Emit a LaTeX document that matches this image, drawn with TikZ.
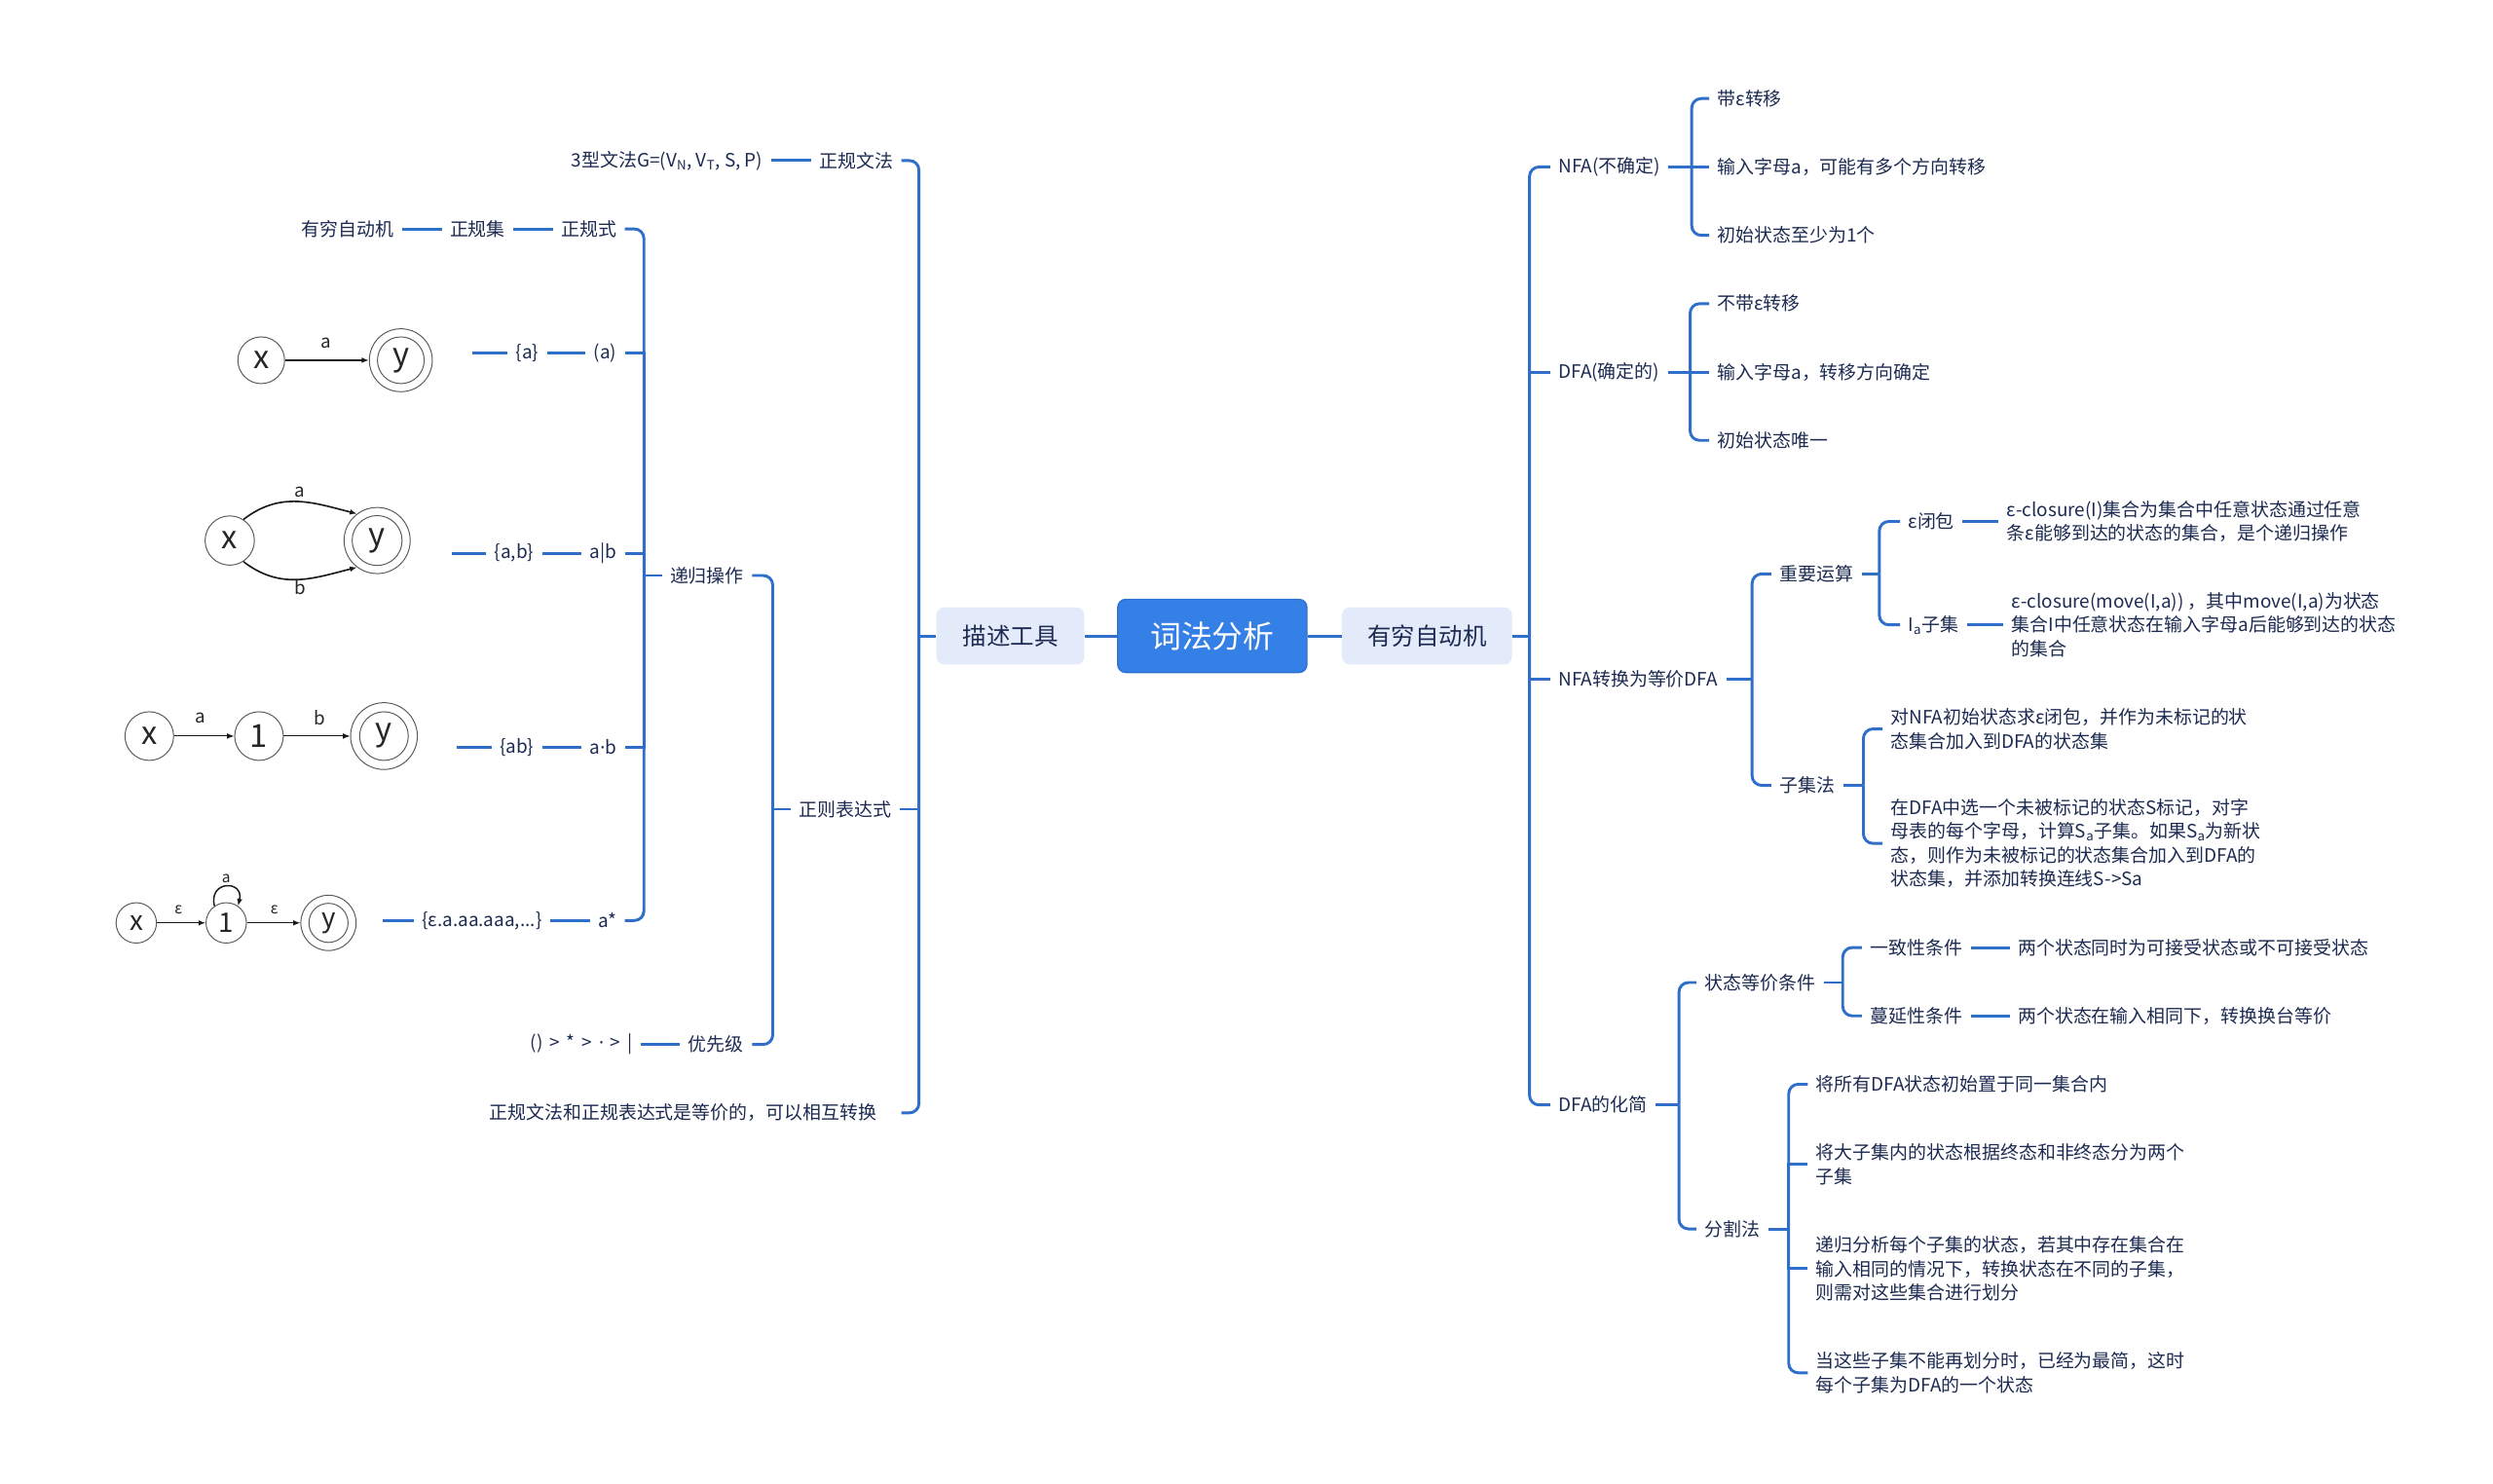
\documentclass[tikz,border=0pt]{standalone}
\usepackage{fontspec}
\setmainfont{Noto Sans CJK SC}
\newfontfamily\latinf{Noto Sans}
\usetikzlibrary{arrows.meta,calc}
\definecolor{linecol}{HTML}{2F6FC9}
\definecolor{txtcol}{HTML}{1D2B52}
\definecolor{rootfill}{HTML}{3580E6}
\definecolor{rootdraw}{HTML}{2C70D2}
\definecolor{boxfill}{HTML}{E3EBFB}
\definecolor{stcol}{HTML}{5A5A5A}
\begin{document}
\begin{tikzpicture}[x=1pt,y=-1pt,
  conn/.style={draw=linecol,line width=1.8pt},
  rc/.style={conn,rounded corners=6pt},
  tn/.style={font=\fontsize{11.6}{15}\selectfont,text=txtcol,inner xsep=5pt,inner ysep=2pt,align=left},
  rn/.style={tn,anchor=west},
  ln/.style={tn,anchor=east},
  rootbox/.style={fill=rootfill,draw=rootdraw,line width=0.8pt,rounded corners=5pt,text=white,font=\fontsize{19.5}{20}\selectfont,minimum width=119pt,minimum height=46pt,inner sep=0pt},
  mainbox/.style={fill=boxfill,rounded corners=5pt,text=txtcol,font=\fontsize{15}{16}\selectfont,minimum height=36pt,inner sep=0pt},
  stt/.style={circle,draw=stcol,line width=0.6pt,inner sep=0pt,text=black!85,font=\fontsize{20}{20}\selectfont},
  sts/.style={circle,draw=stcol,line width=0.6pt,inner sep=0pt,text=black!85,font=\fontsize{17}{17}\selectfont},
  stc/.style={draw=stcol,line width=0.6pt},
  arr/.style={draw=black!90,line width=0.7pt,-{Latex[length=4.5pt,width=3.5pt]}},
  arcc/.style={draw=black!90,line width=1pt,-{Latex[length=4.5pt,width=3.5pt]}},
  lab/.style={text=black!85,font=\fontsize{11.5}{12}\selectfont,inner sep=0pt},
  labs/.style={text=black!85,font=\fontsize{9.5}{10}\selectfont,inner sep=0pt}]
\useasboundingbox[fill=white] (0,0) rectangle (1568,933);

% ---------- centre ----------
\node[rootbox] (root) at (762.5,400) {词法分析};
\node[mainbox,minimum width=93pt] (tool) at (635.5,400) {描述工具};
\node[mainbox,minimum width=107pt] (fa) at (897.5,400) {有穷自动机};
\draw[conn] (root.west) -- (tool.east);
\draw[conn] (root.east) -- (fa.west);

% ---------- left side ----------
\node[ln] (zgwf) at (567,101) {正规文法};
\node[ln] (g3) at (485,101) {3型文法G=(V\textsubscript{N}, V\textsubscript{T}, S, P)};
\node[ln] (zzbds) at (566,509) {正则表达式};
\node[ln,text width=254pt] (eq) at (567,700) {正规文法和正规表达式是等价的，可以相互转换};
\node[ln] (dggz) at (473,362) {递归操作};
\node[ln] (yxj) at (473,657) {优先级};
\node[ln] (pri) at (403,657) {\spaceskip=4.2pt\relax () > * > {\latinf ·} > |};
\node[ln] (zgs) at (393,144) {正规式};
\node[ln] (zgj) at (323,144) {正规集};
\node[ln] (yqzdj) at (253,144) {有穷自动机};
\node[ln] (ra) at (393,222) {(a)};
\node[ln] (sa) at (344,222) {\{a\}};
\node[ln] (rab) at (393,348) {a|b};
\node[ln] (sab) at (341,348) {\{a,b\}};
\node[ln] (rdot) at (393,470) {a{\latinf ·}b};
\node[ln] (sdot) at (341,470) {\{ab\}};
\node[ln] (rstar) at (393,579) {a*};
\node[ln] (sstar) at (346,579) {\{ε.a.aa.aaa,...\}};
\coordinate (img1) at (297,222);
\coordinate (img2) at (284,348);
\coordinate (img3) at (287,470);
\coordinate (img4) at (241,579);

\coordinate (tJ) at (578,400);
\draw[conn] (tool.west) -- (tJ);
\draw[rc] (tJ) |- (zgwf.east);
\draw[conn] (tJ) |- (zzbds.east);
\draw[rc] (tJ) |- (eq.east);
\draw[conn] (zgwf.west) -- (g3.east);

\coordinate (zzJ) at (486,509);
\draw[conn] (zzbds.west) -- (zzJ);
\draw[rc] (zzJ) |- (dggz.east);
\draw[rc] (zzJ) |- (yxj.east);
\draw[conn] (yxj.west) -- (pri.east);

\coordinate (dgJ) at (405,362);
\draw[conn] (dggz.west) -- (dgJ);
\draw[rc] (dgJ) |- (zgs.east);
\draw[conn] (dgJ) |- (ra.east);
\draw[conn] (dgJ) |- (rab.east);
\draw[conn] (dgJ) |- (rdot.east);
\draw[rc] (dgJ) |- (rstar.east);
\draw[conn] (zgs.west) -- (zgj.east);
\draw[conn] (zgj.west) -- (yqzdj.east);
\draw[conn] (ra.west) -- (sa.east);
\draw[conn] (sa.west) -- (img1);
\draw[conn] (rab.west) -- (sab.east);
\draw[conn] (sab.west) -- (img2);
\draw[conn] (rdot.west) -- (sdot.east);
\draw[conn] (sdot.west) -- (img3);
\draw[conn] (rstar.west) -- (sstar.east);
\draw[conn] (sstar.west) -- (img4);

% ---------- automata ----------
\node[stt,minimum size=29.4pt] (ax1) at (164.3,226.6) {x};
\node[stt,minimum size=39.6pt] (ay1) at (252.1,226.6) {y};
\draw[stc] (ay1.center) circle[radius=14.7pt];
\draw[arr] (ax1) -- (ay1);
\node[lab] (la1) at (205.2,216) {a};

\node[stt,minimum size=31pt] (ax2) at (144.5,340) {x};
\node[stt,minimum size=41.6pt] (ay2) at (237.2,340) {y};
\draw[stc] (ay2.center) circle[radius=15.7pt];
\draw[arcc] (ax2.57) .. controls (176.5,308.7) and (196.9,316.1) .. (ay2.127);
\draw[arcc] (ax2.-57) .. controls (176.5,371.3) and (196.9,363.9) .. (ay2.-127);
\node[lab] (la2) at (188.8,309.3) {a};
\node[lab] (lb2) at (188.8,369.5) {b};

\node[stt,minimum size=30.6pt] (ax3) at (93.9,463) {x};
\node[stt,minimum size=30.6pt] (a13) at (162.9,463) {1};
\node[stt,minimum size=42pt] (ay3) at (241.5,463) {y};
\draw[stc] (ay3.center) circle[radius=15.3pt];
\draw[arr] (ax3) -- (a13);
\draw[arr] (a13) -- (ay3);
\node[lab] (la3) at (126.2,451.5) {a};
\node[lab] (lb3) at (201.1,451.5) {b};

\node[sts,minimum size=25.4pt] (ax4) at (85.7,580.5) {x};
\node[sts,minimum size=25.4pt] (a14) at (142.3,580.5) {1};
\node[sts,minimum size=34.8pt] (ay4) at (206.6,580.5) {y};
\draw[stc] (ay4.center) circle[radius=12.3pt];
\draw[arr] (ax4) -- (a14);
\draw[arr] (a14) -- (ay4);
\draw[arcc,line width=0.9pt] (a14.125) .. controls (131,553.5) and (153.5,553.5) .. (a14.55);
\node[labs] (le41) at (112.3,572) {ε};
\node[labs] (le42) at (172.5,572) {ε};
\node[labs] (la4) at (142.3,552.5) {a};

% ---------- right side ----------
\node[rn] (nfa) at (975,105) {NFA(不确定)};
\node[rn] (dfa) at (975,234) {DFA(确定的)};
\node[rn] (conv) at (975,427) {NFA转换为等价DFA};
\node[rn] (mini) at (975,695) {DFA的化简};
\coordinate (faJ) at (962,400);
\draw[conn] (fa.east) -- (faJ);
\draw[rc] (faJ) |- (nfa.west);
\draw[conn] (faJ) |- (dfa.west);
\draw[conn] (faJ) |- (conv.west);
\draw[rc] (faJ) |- (mini.west);

\node[rn] (n1) at (1075,62) {带ε转移};
\node[rn] (n2) at (1075,105) {输入字母a，可能有多个方向转移};
\node[rn] (n3) at (1075,148) {初始状态至少为1个};
\coordinate (nfaJ) at (1064,105);
\draw[conn] (nfa.east) -- (nfaJ);
\draw[rc] (nfaJ) |- (n1.west);
\draw[conn] (nfaJ) -- (n2.west);
\draw[rc] (nfaJ) |- (n3.west);

\node[rn] (d1) at (1075,191) {不带ε转移};
\node[rn] (d2) at (1075,234) {输入字母a，转移方向确定};
\node[rn] (d3) at (1075,277) {初始状态唯一};
\coordinate (dfaJ) at (1063,234);
\draw[conn] (dfa.east) -- (dfaJ);
\draw[rc] (dfaJ) |- (d1.west);
\draw[conn] (dfaJ) -- (d2.west);
\draw[rc] (dfaJ) |- (d3.west);

\node[rn] (c1) at (1114,361) {重要运算};
\node[rn] (c2) at (1114,494) {子集法};
\coordinate (convJ) at (1102,427);
\draw[conn] (conv.east) -- (convJ);
\draw[rc] (convJ) |- (c1.west);
\draw[rc] (convJ) |- (c2.west);

\node[rn] (e1) at (1195,328) {ε闭包};
\node[rn] (e2) at (1195,393) {I\textsubscript{a}子集};
\coordinate (c1J) at (1182,361);
\draw[conn] (c1.east) -- (c1J);
\draw[rc] (c1J) |- (e1.west);
\draw[rc] (c1J) |- (e2.west);
\node[rn] (et1) at (1257,328) {ε-closure(I)集合为集合中任意状态通过任意\\条ε能够到达的状态的集合，是个递归操作};
\node[rn] (et2) at (1260,393) {ε-closure(move(I,a)) ，其中move(I,a)为状态\\集合I中任意状态在输入字母a后能够到达的状态\\的集合};
\draw[conn] (e1.east) -- (et1.west);
\draw[conn] (e2.east) -- (et2.west);

\node[rn] (s1) at (1184,458.5) {对NFA初始状态求ε闭包，并作为未标记的状\\态集合加入到DFA的状态集};
\node[rn] (s2) at (1184,530.5) {在DFA中选一个未被标记的状态S标记，对字\\母表的每个字母，计算S\textsubscript{a}子集。如果S\textsubscript{a}为新状\\态，则作为未被标记的状态集合加入到DFA的\\状态集，并添加转换连线S->Sa};
\coordinate (c2J) at (1172,494);
\draw[conn] (c2.east) -- (c2J);
\draw[rc] (c2J) |- (s1.west);
\draw[rc] (c2J) |- (s2.west);

\node[rn] (m1) at (1067,618) {状态等价条件};
\node[rn] (m2) at (1067,773) {分割法};
\coordinate (minJ) at (1056,695);
\draw[conn] (mini.east) -- (minJ);
\draw[rc] (minJ) |- (m1.west);
\draw[rc] (minJ) |- (m2.west);

\node[rn] (q1) at (1171,596) {一致性条件};
\node[rn] (q2) at (1171,639) {蔓延性条件};
\coordinate (m1J) at (1159,618);
\draw[conn] (m1.east) -- (m1J);
\draw[rc] (m1J) |- (q1.west);
\draw[rc] (m1J) |- (q2.west);
\node[rn] (qt1) at (1264,596) {两个状态同时为可接受状态或不可接受状态};
\node[rn] (qt2) at (1264,639) {两个状态在输入相同下，转换换台等价};
\draw[conn] (q1.east) -- (qt1.west);
\draw[conn] (q2.east) -- (qt2.west);

\node[rn] (p1) at (1137,682) {将所有DFA状态初始置于同一集合内};
\node[rn] (p2) at (1137,732.5) {将大子集内的状态根据终态和非终态分为两个\\子集};
\node[rn] (p3) at (1137,798) {递归分析每个子集的状态，若其中存在集合在\\输入相同的情况下，转换状态在不同的子集，\\则需对这些集合进行划分};
\node[rn] (p4) at (1137,863.5) {当这些子集不能再划分时，已经为最简，这时\\每个子集为DFA的一个状态};
\coordinate (m2J) at (1125,773);
\draw[conn] (m2.east) -- (m2J);
\draw[rc] (m2J) |- (p1.west);
\draw[conn] (m2J) |- (p2.west);
\draw[conn] (m2J) |- (p3.west);
\draw[rc] (m2J) |- (p4.west);
\end{tikzpicture}
\end{document}
